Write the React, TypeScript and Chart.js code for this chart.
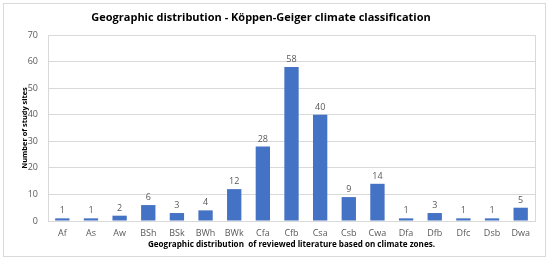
import React, { useEffect, useRef } from "react";
import { Chart, registerables } from "chart.js";
Chart.register(...registerables);

const categories = ["Af", "As", "Aw", "BSh", "BSk", "BWh", "BWk", "Cfa", "Cfb", "Csa", "Csb", "Cwa", "Dfa", "Dfb", "Dfc", "Dsb", "Dwa"];
const studySites = [1, 1, 2, 6, 3, 4, 12, 28, 58, 40, 9, 14, 1, 3, 1, 1, 5];
const yMax = 70;
const yStep = 10;
const chartTitle = "Geographic distribution - Köppen-Geiger climate classification";
const xTitle = "Geographic distribution  of reviewed literature based on climate zones.";
const yTitle = "Number of study sites";

const FONT = "'Open Sans', 'Noto Sans', sans-serif";

const extras = {
  id: "extras",
  beforeDatasetsDraw(chart: any) {
    const { ctx, chartArea: a } = chart;
    ctx.save();
    ctx.strokeStyle = "#d9d9d9";
    ctx.lineWidth = 1;
    ctx.strokeRect(Math.round(a.left) + 0.5, Math.round(a.top) + 0.5, Math.round(a.right - a.left), Math.round(a.bottom - a.top));
    ctx.restore();
  },
  afterDatasetsDraw(chart: any) {
    const { ctx } = chart;
    const meta = chart.getDatasetMeta(0);
    ctx.save();
    ctx.fillStyle = "#595959";
    ctx.font = `9px ${FONT}`;
    ctx.textAlign = "center";
    ctx.textBaseline = "bottom";
    meta.data.forEach((bar: any, i: number) => {
      ctx.fillText(String(studySites[i]), bar.x, bar.y - 3);
    });
    ctx.restore();
  },
  afterDraw(chart: any) {
    const { ctx } = chart;
    ctx.save();
    ctx.fillStyle = "#000";
    ctx.font = `bold 11px ${FONT}`;
    ctx.textAlign = "center";
    ctx.textBaseline = "middle";
    ctx.fillText(chartTitle, 261, 18);
    ctx.restore();
  },
};

export default function App() {
  const ref = useRef<HTMLCanvasElement>(null);
  useEffect(() => {
    if (!ref.current) return;
    const chart = new Chart(ref.current, {
      type: "bar",
      data: {
        labels: categories,
        datasets: [
          {
            data: studySites,
            backgroundColor: "#4472C4",
            barPercentage: 0.5,
            categoryPercentage: 1,
          },
        ],
      },
      options: {
        animation: false,
        responsive: false,
        events: [],
        layout: { padding: { left: 4, right: 15, top: 35, bottom: 12 } },
        plugins: { legend: { display: false }, tooltip: { enabled: false }, title: { display: false } },
        scales: {
          x: {
            grid: { display: false, drawTicks: false },
            border: { display: false },
            ticks: { color: "#595959", font: { family: FONT, size: 9 }, padding: 7, maxRotation: 0, autoSkip: false },
            title: { display: true, text: xTitle, color: "#000", font: { family: FONT, size: 8.1, weight: "bold" }, padding: { top: 0, bottom: 0 } },
            afterFit(s: any) { s.height = 29; },
          },
          y: {
            min: 0,
            max: yMax,
            ticks: { stepSize: yStep, color: "#595959", font: { family: FONT, size: 9 }, padding: 10 },
            grid: { color: "#d9d9d9", drawTicks: false },
            border: { display: false },
            title: { display: true, text: yTitle, color: "#000", font: { family: FONT, size: 7.4, weight: "bold" }, padding: { top: 16, bottom: 0 } },
            afterFit(s: any) { s.width = 44; },
          },
        },
      },
      plugins: [extras],
    });
    return () => chart.destroy();
  }, []);
  return (
    <div style={{ position: "fixed", left: 0, top: 0, width: 550, height: 262, background: "#fff" }}>
      <div style={{ position: "absolute", left: 3, top: 3, width: 541, height: 252, border: "1px solid #d9d9d9" }} />
      <canvas ref={ref} width={550} height={262} style={{ position: "absolute", left: 0, top: 0 }} />
    </div>
  );
}
